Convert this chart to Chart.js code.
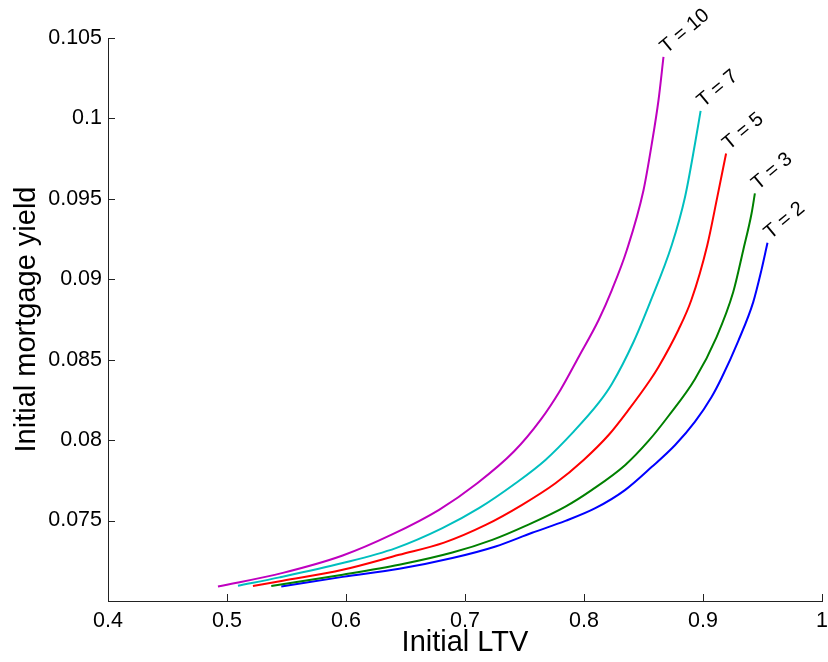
<!DOCTYPE html>
<html>
<head>
<meta charset="utf-8">
<script src="https://cdn.jsdelivr.net/npm/chart.js@4"></script>
<style>
  html, body { margin: 0; padding: 0; background: #fff; }
  #wrap { width: 828px; height: 662px; }
</style>
</head>
<body>
<div id="wrap"><canvas id="ltvChart"></canvas></div>
<script>
// Initial LTV (x) and initial mortgage yield (y)
const ltvT10 = [0.4924, 0.5469, 0.5972, 0.6388, 0.6782, 0.7103, 0.7411, 0.7635, 0.7802, 0.7955, 0.8123, 0.8234, 0.8360, 0.8500, 0.8570, 0.8626, 0.8668];
const yldT10 = [0.07090, 0.07175, 0.07283, 0.07414, 0.07567, 0.07732, 0.07929, 0.08126, 0.08312, 0.08517, 0.08747, 0.08933, 0.09182, 0.09554, 0.09844, 0.10113, 0.10382];

const ltvT7 = [0.5092, 0.5441, 0.5972, 0.6419, 0.6810, 0.7117, 0.7425, 0.7676, 0.7913, 0.8123, 0.8234, 0.8416, 0.8556, 0.8737, 0.8849, 0.8933, 0.8980];
const yldT7 = [0.07095, 0.07147, 0.07236, 0.07329, 0.07453, 0.07577, 0.07732, 0.07877, 0.08053, 0.08231, 0.08349, 0.08610, 0.08858, 0.09212, 0.09512, 0.09844, 0.10047];

const ltvT5 = [0.5218, 0.5469, 0.5972, 0.6447, 0.6824, 0.7174, 0.7480, 0.7760, 0.7997, 0.8207, 0.8374, 0.8556, 0.8626, 0.8793, 0.8902, 0.9036, 0.9120, 0.9194];
const yldT5 = [0.07093, 0.07126, 0.07194, 0.07287, 0.07363, 0.07473, 0.07598, 0.07732, 0.07877, 0.08032, 0.08188, 0.08374, 0.08455, 0.08685, 0.08871, 0.09212, 0.09511, 0.09782];

const ltvT3 = [0.5372, 0.5972, 0.6447, 0.6894, 0.7229, 0.7509, 0.7844, 0.8067, 0.8347, 0.8542, 0.8710, 0.8933, 0.9114, 0.9254, 0.9338, 0.9408, 0.9436];
const yldT3 = [0.07093, 0.07163, 0.07225, 0.07301, 0.07380, 0.07467, 0.07587, 0.07691, 0.07846, 0.07995, 0.08150, 0.08380, 0.08641, 0.08921, 0.09181, 0.09409, 0.09534];

const ltvT2 = [0.5456, 0.5972, 0.6447, 0.6894, 0.7257, 0.7564, 0.7844, 0.8095, 0.8347, 0.8570, 0.8766, 0.8933, 0.9072, 0.9156, 0.9296, 0.9422, 0.9491, 0.9542];
const yldT2 = [0.07090, 0.07150, 0.07200, 0.07267, 0.07339, 0.07424, 0.07498, 0.07577, 0.07691, 0.07834, 0.07970, 0.08115, 0.08268, 0.08386, 0.08616, 0.08858, 0.09057, 0.09227];

const seriesLabels = ["T = 10", "T = 7", "T = 5", "T = 3", "T = 2"];
const seriesColors = ["#bf00bf", "#00bfbf", "#ff0000", "#008000", "#0000ff"];
const seriesX = [ltvT10, ltvT7, ltvT5, ltvT3, ltvT2];
const seriesY = [yldT10, yldT7, yldT5, yldT3, yldT2];

const xTicks = [0.4, 0.5, 0.6, 0.7, 0.8, 0.9, 1];
const yTicks = [0.07, 0.075, 0.08, 0.085, 0.09, 0.095, 0.1, 0.105];

const FONT = "'Liberation Sans', Arial, Helvetica, sans-serif";

function toPoints(xs, ys) {
    return xs.map((x, i) => ({ x: x, y: ys[i] }));
}

// MATLAB style ticks: drawn inside the axes
const inwardTicks = {
    id: "inwardTicks",
    afterDraw(chart) {
        const ctx = chart.ctx;
        const xs = chart.scales.x, ys = chart.scales.y;
        const area = chart.chartArea;
        ctx.save();
        ctx.strokeStyle = "#222";
        ctx.lineWidth = 1;
        ctx.beginPath();
        for (const v of xTicks) {
            const px = Math.round(xs.getPixelForValue(v)) + 0.5;
            ctx.moveTo(px, area.bottom);
            ctx.lineTo(px, area.bottom - 7);
        }
        for (const v of yTicks) {
            const py = Math.round(ys.getPixelForValue(v)) + 0.5;
            ctx.moveTo(area.left, py);
            ctx.lineTo(area.left + 7, py);
        }
        ctx.stroke();
        ctx.restore();
    }
};

// "T = n" labels at the end of each curve
const endLabels = {
    id: "endLabels",
    afterDatasetsDraw(chart) {
        const ctx = chart.ctx;
        ctx.save();
        ctx.fillStyle = "#000";
        ctx.font = "20px " + FONT;
        ctx.textAlign = "left";
        ctx.textBaseline = "alphabetic";
        chart.data.datasets.forEach((ds, i) => {
            const last = ds.data[ds.data.length - 1];
            const px = chart.scales.x.getPixelForValue(last.x);
            const py = chart.scales.y.getPixelForValue(last.y);
            ctx.save();
            ctx.translate(px + 3, py - 3);
            ctx.rotate(-40 * Math.PI / 180);
            ctx.fillText(seriesLabels[i], 0, 0);
            ctx.restore();
        });
        ctx.restore();
    }
};

const datasets = seriesLabels.map((lab, i) => ({
    label: lab,
    data: toPoints(seriesX[i], seriesY[i]),
    borderColor: seriesColors[i],
    borderWidth: 2,
    pointRadius: 0,
    fill: false,
    cubicInterpolationMode: "monotone"
}));

new Chart(document.getElementById("ltvChart"), {
    type: "line",
    data: { datasets: datasets },
    plugins: [inwardTicks, endLabels],
    options: {
        responsive: true,
        maintainAspectRatio: false,
        animation: false,
        layout: { padding: { left: 0, right: 0, top: 38, bottom: 0 } },
        plugins: {
            legend: { display: false },
            tooltip: { enabled: false }
        },
        scales: {
            x: {
                type: "linear",
                min: 0.4,
                max: 1,
                afterBuildTicks: s => { s.ticks = xTicks.map(v => ({ value: v })); },
                afterFit: s => { s.height = 61; s.paddingLeft = 0; s.paddingRight = 6; },
                grid: { display: false, drawTicks: false },
                border: { display: true, color: "#222", width: 1 },
                ticks: {
                    color: "#000",
                    padding: 7,
                    font: { family: FONT, size: 21.5 },
                    callback: v => String(+v.toFixed(2))
                },
                title: {
                    display: true,
                    text: "Initial LTV",
                    color: "#000",
                    font: { family: FONT, size: 29 },
                    padding: { top: 0, bottom: 2 }
                }
            },
            y: {
                type: "linear",
                min: 0.07,
                max: 0.105,
                afterBuildTicks: s => { s.ticks = yTicks.map(v => ({ value: v })); },
                afterFit: s => { s.width = 108; s.paddingTop = 0; s.paddingBottom = 0; },
                grid: { display: false, drawTicks: false },
                border: { display: true, color: "#222", width: 1 },
                ticks: {
                    color: "#000",
                    padding: 6,
                    font: { family: FONT, size: 21.5 },
                    callback: v => v < 0.0725 ? "" : String(+v.toFixed(3))
                },
                title: {
                    display: true,
                    text: "Initial mortgage yield",
                    color: "#000",
                    font: { family: FONT, size: 29 },
                    padding: { top: 10, bottom: 0 }
                }
            }
        }
    }
});
</script>
</body>
</html>
